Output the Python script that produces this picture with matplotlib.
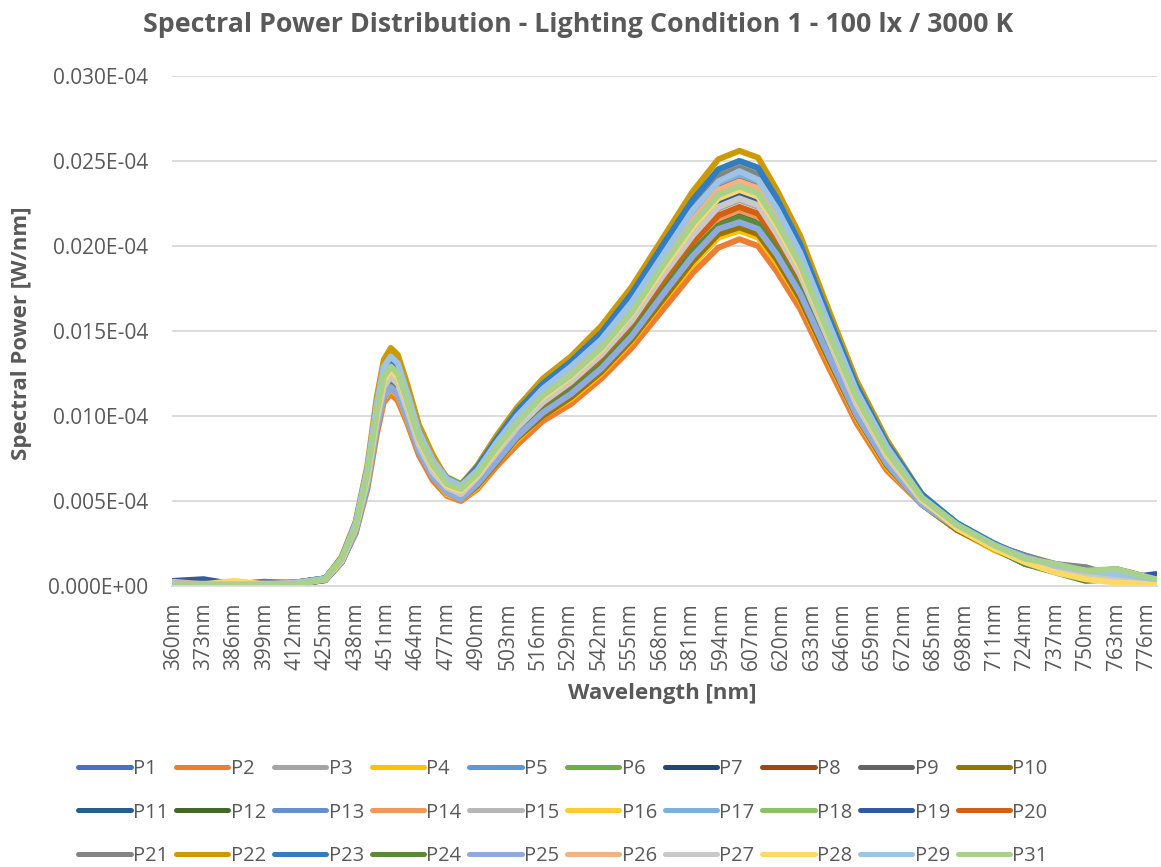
import matplotlib.pyplot as plt
from matplotlib.lines import Line2D

plt.rcParams['font.family'] = ['Open Sans', 'DejaVu Sans']

# wavelengths (nm) of the sampled points
wavelength = [360, 373, 386, 399, 412, 425, 432, 438, 443, 447, 450, 453, 456, 460, 465, 471,
              477, 483, 490, 498, 507, 518, 530, 543, 556, 569, 582, 593, 602, 610, 618, 628,
              640, 652, 665, 680, 695, 711, 724, 737, 750, 763, 780]

# category labels shown on the x axis
tick_wavelengths = [360, 373, 386, 399, 412, 425, 438, 451, 464, 477, 490, 503, 516, 529, 542,
                    555, 568, 581, 594, 607, 620, 633, 646, 659, 672, 685, 698, 711, 724, 737,
                    750, 763, 776]

# spectral power per participant, in units of 1e-7 W/nm
p1 = [0.2, 0.1, 0.05, 0.1, 0.15, 0.4, 1.6, 3.6, 6.6, 10.3, 12.4, 13.0, 12.6, 11.0, 8.8, 7.1, 6.1, 5.7,
      7.0, 8.5, 10.2, 11.9, 13.1, 14.9, 17.1, 19.9, 22.6, 24.4, 24.9, 24.5, 22.7, 20.0, 15.8, 11.8, 8.3,
      5.3, 3.6, 2.3, 1.6, 1.1, 0.7, 0.5, 0.3]
p2 = [0.1, 0.15, 0.1, 0.05, 0.2, 0.35, 1.4, 3.1, 5.7, 8.9, 10.8, 11.3, 10.9, 9.6, 7.7, 6.2, 5.3, 5.0,
      5.7, 7.0, 8.3, 9.7, 10.7, 12.2, 14.0, 16.2, 18.4, 19.9, 20.4, 20.0, 18.5, 16.3, 12.9, 9.6, 6.8,
      4.8, 3.3, 2.2, 1.5, 1.0, 0.8, 0.4, 0.2]
p3 = [0.05, 0.1, 0.15, 0.1, 0.1, 0.4, 1.5, 3.4, 6.2, 9.7, 11.7, 12.3, 11.9, 10.4, 8.3, 6.7, 5.8, 5.4,
      6.3, 7.8, 9.3, 10.8, 12.0, 13.6, 15.6, 18.1, 20.6, 22.2, 22.7, 22.3, 20.7, 18.2, 14.4, 10.7, 7.6,
      5.0, 3.5, 2.3, 1.7, 1.1, 1.1, 0.5, 0.3]
p4 = [0.15, 0.05, 0.1, 0.15, 0.1, 0.35, 1.4, 3.2, 5.9, 9.2, 11.0, 11.6, 11.2, 9.8, 7.9, 6.4, 5.4, 5.1,
      5.8, 7.2, 8.6, 10.0, 11.0, 12.5, 14.4, 16.7, 18.9, 20.5, 20.9, 20.5, 19.0, 16.8, 13.3, 9.9, 7.0,
      4.8, 3.3, 2.1, 1.4, 0.9, 0.4, 0.3, 0.1]
p5 = [0.1, 0.2, 0.05, 0.1, 0.2, 0.45, 1.6, 3.6, 6.7, 10.4, 12.6, 13.2, 12.8, 11.2, 8.9, 7.2, 6.2, 5.8,
      6.8, 8.3, 10.0, 11.6, 12.8, 14.5, 16.7, 19.4, 22.0, 23.8, 24.3, 23.9, 22.1, 19.5, 15.4, 11.5, 8.1,
      5.2, 3.6, 2.4, 1.6, 1.2, 0.7, 0.6, 0.4]
p6 = [0.2, 0.1, 0.1, 0.05, 0.15, 0.4, 1.7, 3.7, 6.9, 10.7, 13.0, 13.6, 13.2, 11.5, 9.2, 7.5, 6.4, 6.0,
      7.0, 8.6, 10.3, 11.9, 13.2, 14.9, 17.2, 20.0, 22.7, 24.5, 25.0, 24.6, 22.8, 20.1, 15.9, 11.8, 8.4,
      5.3, 3.7, 2.4, 1.7, 1.2, 0.9, 0.7, 0.3]
p7 = [0.1, 0.05, 0.1, 0.15, 0.1, 0.4, 1.5, 3.4, 6.3, 9.8, 11.8, 12.4, 12.0, 10.5, 8.4, 6.8, 5.8, 5.5,
      6.4, 7.9, 9.5, 11.0, 12.2, 13.8, 15.9, 18.4, 20.9, 22.6, 23.1, 22.7, 21.0, 18.5, 14.7, 10.9, 7.7,
      5.0, 3.5, 2.3, 1.5, 1.1, 0.6, 0.5, 0.2]
p8 = [0.05, 0.1, 0.1, 0.25, 0.15, 0.4, 1.6, 3.5, 6.5, 10.1, 12.2, 12.8, 12.4, 10.8, 8.7, 7.0, 6.0, 5.6,
      6.7, 8.2, 9.8, 11.4, 12.7, 14.3, 16.5, 19.2, 21.7, 23.5, 24.0, 23.6, 21.8, 19.3, 15.2, 11.3, 8.0,
      5.2, 3.5, 2.3, 1.7, 1.2, 0.8, 1.0, 0.4]
p9 = [0.15, 0.1, 0.05, 0.1, 0.2, 0.45, 1.6, 3.6, 6.7, 10.3, 12.5, 13.1, 12.7, 11.1, 8.9, 7.2, 6.1, 5.8,
      6.9, 8.4, 10.1, 11.7, 13.0, 14.7, 16.9, 19.6, 22.3, 24.1, 24.6, 24.2, 22.4, 19.8, 15.6, 11.6, 8.2,
      5.3, 3.6, 2.4, 1.8, 1.2, 1.0, 0.6, 0.5]
p10 = [0.1, 0.1, 0.15, 0.05, 0.1, 0.35, 1.4, 3.2, 5.9, 9.2, 11.1, 11.7, 11.3, 9.9, 7.9, 6.4, 5.5, 5.1,
       5.9, 7.2, 8.7, 10.0, 11.1, 12.6, 14.5, 16.8, 19.1, 20.7, 21.1, 20.7, 19.2, 16.9, 13.4, 10.0, 7.1,
       4.8, 3.3, 2.2, 1.5, 1.0, 0.6, 0.4, 0.2]
p11 = [0.05, 0.15, 0.1, 0.1, 0.15, 0.4, 1.5, 3.3, 6.1, 9.5, 11.4, 12.0, 11.6, 10.2, 8.1, 6.6, 5.6, 5.3,
       6.1, 7.5, 9.0, 10.5, 11.6, 13.1, 15.1, 17.6, 19.9, 21.5, 22.0, 21.6, 20.0, 17.7, 14.0, 10.4, 7.4,
       4.9, 3.4, 2.3, 1.5, 0.9, 0.5, 0.3, 0.2]
p12 = [0.1, 0.05, 0.1, 0.1, 0.1, 0.35, 1.4, 3.3, 6.0, 9.4, 11.3, 11.9, 11.5, 10.1, 8.1, 6.5, 5.6, 5.2,
       6.1, 7.4, 8.9, 10.3, 11.5, 13.0, 14.9, 17.3, 19.7, 21.2, 21.7, 21.3, 19.8, 17.4, 13.8, 10.2, 7.3,
       4.9, 3.4, 2.2, 1.3, 0.9, 0.4, 0.4, 0.2]
p13 = [0.15, 0.1, 0.05, 0.15, 0.15, 0.35, 1.4, 3.2, 6.0, 9.3, 11.2, 11.8, 11.4, 10.0, 8.0, 6.5, 5.5, 5.2,
       6.0, 7.3, 8.8, 10.2, 11.3, 12.8, 14.7, 17.1, 19.4, 21.0, 21.4, 21.0, 19.5, 17.2, 13.6, 10.1, 7.2,
       4.8, 3.4, 2.2, 1.5, 1.0, 0.7, 0.5, 0.3]
p14 = [0.1, 0.1, 0.1, 0.2, 0.2, 0.4, 1.5, 3.3, 6.2, 9.6, 11.5, 12.1, 11.7, 10.2, 8.2, 6.6, 5.7, 5.3,
       6.2, 7.6, 9.1, 10.5, 11.7, 13.2, 15.2, 17.6, 20.0, 21.6, 22.1, 21.7, 20.1, 17.7, 14.0, 10.4, 7.4,
       4.9, 3.4, 2.3, 1.6, 1.1, 0.9, 0.6, 0.3]
p15 = [0.05, 0.05, 0.15, 0.1, 0.1, 0.4, 1.5, 3.4, 6.3, 9.8, 11.8, 12.4, 12.0, 10.5, 8.4, 6.8, 5.8, 5.4,
       6.4, 7.8, 9.3, 10.8, 12.0, 13.6, 15.6, 18.2, 20.6, 22.3, 22.8, 22.4, 20.7, 18.3, 14.5, 10.7, 7.6,
       5.0, 3.5, 2.3, 1.6, 1.1, 0.8, 0.5, 0.3]
p16 = [0.1, 0.15, 0.2, 0.05, 0.1, 0.4, 1.5, 3.5, 6.4, 10.0, 12.0, 12.6, 12.2, 10.7, 8.5, 6.9, 5.9, 5.5,
       6.5, 8.0, 9.6, 11.1, 12.3, 13.9, 16.0, 18.6, 21.1, 22.8, 23.3, 22.9, 21.2, 18.7, 14.8, 11.0, 7.8,
       5.1, 3.4, 2.2, 1.5, 0.9, 0.5, 0.3, 0.2]
p17 = [0.15, 0.1, 0.1, 0.1, 0.15, 0.45, 1.6, 3.6, 6.8, 10.5, 12.7, 13.3, 12.9, 11.3, 9.0, 7.3, 6.2, 5.9,
       6.8, 8.3, 9.9, 11.5, 12.8, 14.4, 16.6, 19.3, 21.9, 23.7, 24.2, 23.8, 22.0, 19.4, 15.4, 11.4, 8.1,
       5.2, 3.6, 2.4, 1.7, 1.3, 0.9, 0.7, 0.4]
p18 = [0.2, 0.05, 0.1, 0.1, 0.1, 0.45, 1.6, 3.7, 6.9, 10.7, 12.9, 13.5, 13.1, 11.4, 9.1, 7.4, 6.3, 5.9,
       7.0, 8.5, 10.2, 11.9, 13.1, 14.9, 17.1, 19.9, 22.6, 24.4, 24.9, 24.5, 22.7, 20.0, 15.8, 11.8, 8.3,
       5.3, 3.7, 2.4, 1.7, 1.2, 0.8, 0.8, 0.3]
p19 = [0.3, 0.4, 0.1, 0.1, 0.15, 0.4, 1.5, 3.5, 6.4, 10.0, 12.0, 12.6, 12.2, 10.7, 8.5, 6.9, 5.9, 5.6,
       6.4, 7.9, 9.5, 11.0, 12.2, 13.8, 15.9, 18.4, 20.9, 22.6, 23.1, 22.7, 21.0, 18.5, 14.7, 10.9, 7.7,
       5.0, 3.5, 2.3, 1.6, 1.0, 0.5, 0.4, 0.7]
p20 = [0.1, 0.1, 0.05, 0.2, 0.2, 0.4, 1.5, 3.3, 6.2, 9.6, 11.6, 12.2, 11.8, 10.3, 8.3, 6.7, 5.7, 5.4,
       6.2, 7.6, 9.1, 10.6, 11.8, 13.3, 15.3, 17.8, 20.2, 21.8, 22.3, 21.9, 20.3, 17.9, 14.1, 10.5, 7.5,
       4.9, 3.4, 2.3, 1.5, 1.0, 0.7, 0.9, 0.3]
p21 = [0.15, 0.15, 0.1, 0.1, 0.1, 0.45, 1.6, 3.6, 6.6, 10.3, 12.4, 13.0, 12.6, 11.0, 8.8, 7.1, 6.1, 5.7,
       6.9, 8.4, 10.1, 11.7, 13.0, 14.7, 16.9, 19.6, 22.3, 24.1, 24.6, 24.2, 22.4, 19.8, 15.6, 11.6, 8.2,
       5.3, 3.6, 2.4, 1.8, 1.3, 1.1, 0.6, 0.4]
p22 = [0.1, 0.1, 0.1, 0.1, 0.15, 0.45, 1.7, 3.8, 7.1, 11.1, 13.3, 14.0, 13.6, 11.9, 9.5, 7.7, 6.3, 5.95,
       7.1, 8.8, 10.5, 12.2, 13.5, 15.3, 17.6, 20.4, 23.2, 25.1, 25.6, 25.2, 23.3, 20.6, 16.3, 12.1, 8.6,
       5.4, 3.6, 2.3, 1.4, 0.9, 0.5, 0.3, 0.1]
p23 = [0.2, 0.1, 0.05, 0.15, 0.2, 0.45, 1.6, 3.7, 6.8, 10.6, 12.8, 13.4, 13.0, 11.3, 9.1, 7.3, 6.3, 5.9,
       7.0, 8.6, 10.3, 11.9, 13.2, 14.9, 17.2, 20.0, 22.7, 24.5, 25.0, 24.6, 22.8, 20.1, 15.9, 11.8, 8.4,
       5.4, 3.7, 2.5, 1.7, 1.1, 0.4, 0.6, 0.3]
p24 = [0.05, 0.1, 0.1, 0.1, 0.1, 0.35, 1.5, 3.3, 6.1, 9.5, 11.4, 12.0, 11.6, 10.2, 8.1, 6.6, 5.6, 5.3,
       6.1, 7.4, 8.9, 10.3, 11.5, 13.0, 14.9, 17.3, 19.7, 21.2, 21.7, 21.3, 19.8, 17.4, 13.8, 10.2, 7.3,
       4.9, 3.4, 2.2, 1.3, 0.8, 0.3, 0.4, 0.2]
p25 = [0.1, 0.1, 0.1, 0.15, 0.15, 0.35, 1.4, 3.2, 5.9, 9.2, 11.1, 11.7, 11.3, 9.9, 7.9, 6.4, 5.5, 5.1,
       6.0, 7.3, 8.8, 10.2, 11.3, 12.8, 14.7, 17.1, 19.4, 21.0, 21.4, 21.0, 19.5, 17.2, 13.6, 10.1, 7.2,
       4.8, 3.4, 2.3, 1.5, 1.1, 0.7, 0.5, 0.3]
p26 = [0.25, 0.1, 0.1, 0.1, 0.2, 0.4, 1.6, 3.5, 6.5, 10.1, 12.2, 12.8, 12.4, 10.8, 8.7, 7.0, 6.0, 5.6,
       6.6, 8.2, 9.7, 11.3, 12.5, 14.2, 16.3, 19.0, 21.5, 23.3, 23.8, 23.4, 21.6, 19.1, 15.1, 11.2, 8.0,
       5.1, 3.5, 2.4, 1.6, 1.2, 0.9, 0.6, 0.3]
p27 = [0.1, 0.05, 0.1, 0.1, 0.15, 0.4, 1.5, 3.4, 6.2, 9.7, 11.7, 12.3, 11.9, 10.4, 8.3, 6.7, 5.8, 5.4,
       6.4, 7.8, 9.3, 10.8, 12.0, 13.6, 15.6, 18.2, 20.6, 22.3, 22.8, 22.4, 20.7, 18.3, 14.5, 10.7, 7.6,
       5.0, 3.5, 2.3, 1.5, 1.1, 0.7, 0.5, 0.3]
p28 = [0.1, 0.1, 0.3, 0.1, 0.1, 0.4, 1.5, 3.5, 6.5, 10.0, 12.1, 12.7, 12.3, 10.8, 8.6, 7.0, 5.9, 5.6,
       6.5, 8.0, 9.6, 11.1, 12.3, 13.9, 16.0, 18.6, 21.1, 22.8, 23.3, 22.9, 21.2, 18.7, 14.8, 11.0, 7.8,
       5.1, 3.4, 2.2, 1.4, 0.8, 0.4, 0.2, 0.1]
p29 = [0.15, 0.1, 0.1, 0.1, 0.15, 0.45, 1.6, 3.7, 6.9, 10.7, 12.9, 13.5, 13.1, 11.4, 9.1, 7.4, 6.3, 5.9,
       6.8, 8.4, 10.0, 11.6, 12.9, 14.5, 16.7, 19.4, 22.1, 23.8, 24.4, 23.9, 22.2, 19.6, 15.5, 11.5, 8.2,
       5.2, 3.6, 2.4, 1.7, 1.2, 0.9, 0.7, 0.4]
p31 = [0.05, 0.05, 0.05, 0.05, 0.1, 0.4, 1.6, 3.5, 6.6, 10.2, 12.3, 12.9, 12.5, 10.9, 8.7, 7.1, 6.0, 5.7,
       6.6, 8.1, 9.6, 11.2, 12.4, 14.0, 16.1, 18.8, 21.3, 23.0, 23.5, 23.1, 21.4, 18.9, 14.9, 11.1, 7.9,
       5.2, 3.6, 2.4, 1.6, 1.3, 0.9, 1.0, 0.4]

series_names = ['P1', 'P2', 'P3', 'P4', 'P5', 'P6', 'P7', 'P8', 'P9', 'P10',
                'P11', 'P12', 'P13', 'P14', 'P15', 'P16', 'P17', 'P18', 'P19', 'P20',
                'P21', 'P22', 'P23', 'P24', 'P25', 'P26', 'P27', 'P28', 'P29', 'P31']
series_values = [p1, p2, p3, p4, p5, p6, p7, p8, p9, p10,
                 p11, p12, p13, p14, p15, p16, p17, p18, p19, p20,
                 p21, p22, p23, p24, p25, p26, p27, p28, p29, p31]

# office palette, with darker / lighter variants for later series
colors = ['#4472C4', '#ED7D31', '#A5A5A5', '#FFC000', '#5B9BD5', '#70AD47',
          '#264478', '#9E480E', '#636363', '#997300', '#255E91', '#43682B',
          '#698ED0', '#F1975A', '#B7B7B7', '#FFCD33', '#7CAFDD', '#8CC168',
          '#335AA1', '#D26012', '#848484', '#CC9A00', '#327DC2', '#5A8A39',
          '#8FAADC', '#F4B183', '#C9C9C9', '#FFD966', '#9DC3E6', '#A9D18E']

text_color = '#595959'
grid_color = '#D9D9D9'

W, H = 1161, 867
fig = plt.figure(figsize=(W / 100, H / 100), dpi=100)
ax = fig.add_axes([172 / W, 1 - 586 / H, (1157 - 172) / W, (586 - 76) / H])

for name, vals, col in zip(series_names, series_values, colors):
    ax.plot(wavelength, vals, color=col, linewidth=4.3, label=name,
            solid_capstyle='round', solid_joinstyle='round')

ax.set_xlim(359.5, 780.5)
ax.set_ylim(0, 30)

ax.set_yticks([0, 5, 10, 15, 20, 25, 30])
ax.set_yticklabels(['0.000E+00' if v == 0 else f'{v / 1000:.3f}E-04' for v in [0, 5, 10, 15, 20, 25, 30]])
ax.set_xticks(tick_wavelengths)
ax.set_xticklabels([f'{w}nm' for w in tick_wavelengths], rotation=90)

ax.tick_params(axis='both', length=0, labelsize=15, labelcolor=text_color)
ax.tick_params(axis='y', pad=17)
ax.tick_params(axis='x', pad=12)

ax.yaxis.grid(True, color=grid_color, linewidth=1.3)
ax.set_axisbelow(True)
for side in ['top', 'right', 'left']:
    ax.spines[side].set_visible(False)
ax.spines['bottom'].set_color(grid_color)
ax.spines['bottom'].set_linewidth(1.3)

fig.text(578 / W, 1 - 25 / H, 'Spectral Power Distribution - Lighting Condition 1 - 100 lx / 3000 K',
         ha='center', va='center', fontsize=19.3, fontweight='bold', color=text_color)
fig.text(22 / W, 1 - 333 / H, 'Spectral Power [W/nm]', rotation=90, ha='center', va='center',
         fontsize=16, fontweight='bold', color=text_color)
fig.text(662 / W, 1 - 693 / H, 'Wavelength [nm]', ha='center', va='center',
         fontsize=16, fontweight='bold', color=text_color)

# legend reads row by row: matplotlib fills columns first, so reorder entries
n_cols, n_rows = 10, 3
order = [r * n_cols + c for c in range(n_cols) for r in range(n_rows)]
handles = [Line2D([], [], color=colors[i], linewidth=3.6, solid_capstyle='round') for i in order]
labels = [series_names[i] for i in order]
fig.legend(handles, labels, ncol=n_cols, loc='center', bbox_to_anchor=(563 / W, 1 - 812.5 / H),
           frameon=False, fontsize=14.5, labelcolor=text_color, handlelength=2.6,
           handletextpad=0.12, columnspacing=0.38, labelspacing=1.17, borderpad=0)

fig.savefig('out.png', dpi=100)
